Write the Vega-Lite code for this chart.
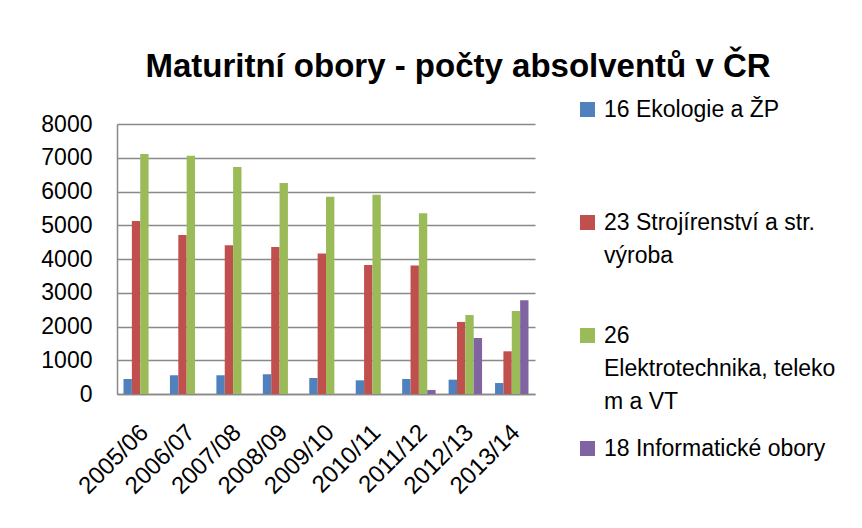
{
  "$schema": "https://vega.github.io/schema/vega-lite/v6.json",
  "width": 418,
  "height": 270,
  "autosize": {"type": "none"},
  "padding": {"left": 117, "top": 124, "right": 327, "bottom": 134},
  "background": "white",
  "title": {
    "text": "Maturitní obory - počty absolventů v ČR",
    "font": "Liberation Sans",
    "fontSize": 33,
    "fontWeight": "bold",
    "color": "#000000",
    "anchor": "middle",
    "dx": 132,
    "offset": 14
  },
  "data": {
    "values": [
      {"year": "2005/06", "series": "16 Ekologie a ŽP", "value": 445},
      {"year": "2005/06", "series": "23 Strojírenství a str. výroba", "value": 5125},
      {"year": "2005/06", "series": "26 Elektrotechnika, telekom a VT", "value": 7110},
      {"year": "2006/07", "series": "16 Ekologie a ŽP", "value": 555},
      {"year": "2006/07", "series": "23 Strojírenství a str. výroba", "value": 4710},
      {"year": "2006/07", "series": "26 Elektrotechnika, telekom a VT", "value": 7060},
      {"year": "2007/08", "series": "16 Ekologie a ŽP", "value": 555},
      {"year": "2007/08", "series": "23 Strojírenství a str. výroba", "value": 4405},
      {"year": "2007/08", "series": "26 Elektrotechnika, telekom a VT", "value": 6725},
      {"year": "2008/09", "series": "16 Ekologie a ŽP", "value": 585},
      {"year": "2008/09", "series": "23 Strojírenství a str. výroba", "value": 4355},
      {"year": "2008/09", "series": "26 Elektrotechnika, telekom a VT", "value": 6250},
      {"year": "2009/10", "series": "16 Ekologie a ŽP", "value": 475},
      {"year": "2009/10", "series": "23 Strojírenství a str. výroba", "value": 4160},
      {"year": "2009/10", "series": "26 Elektrotechnika, telekom a VT", "value": 5845},
      {"year": "2010/11", "series": "16 Ekologie a ŽP", "value": 405},
      {"year": "2010/11", "series": "23 Strojírenství a str. výroba", "value": 3820},
      {"year": "2010/11", "series": "26 Elektrotechnika, telekom a VT", "value": 5905},
      {"year": "2011/12", "series": "16 Ekologie a ŽP", "value": 445},
      {"year": "2011/12", "series": "23 Strojírenství a str. výroba", "value": 3805},
      {"year": "2011/12", "series": "26 Elektrotechnika, telekom a VT", "value": 5355},
      {"year": "2011/12", "series": "18 Informatické obory", "value": 120},
      {"year": "2012/13", "series": "16 Ekologie a ŽP", "value": 425},
      {"year": "2012/13", "series": "23 Strojírenství a str. výroba", "value": 2135},
      {"year": "2012/13", "series": "26 Elektrotechnika, telekom a VT", "value": 2340},
      {"year": "2012/13", "series": "18 Informatické obory", "value": 1660},
      {"year": "2013/14", "series": "16 Ekologie a ŽP", "value": 325},
      {"year": "2013/14", "series": "23 Strojírenství a str. výroba", "value": 1265},
      {"year": "2013/14", "series": "26 Elektrotechnika, telekom a VT", "value": 2460},
      {"year": "2013/14", "series": "18 Informatické obory", "value": 2775}
    ]
  },
  "mark": {"type": "bar"},
  "encoding": {
    "x": {
      "field": "year",
      "type": "nominal",
      "sort": null,
      "scale": {"paddingInner": 0.28, "paddingOuter": 0.14},
      "axis": {
        "title": null,
        "labelAngle": -45,
        "labelFont": "Liberation Sans",
        "labelFontSize": 24,
        "labelColor": "#000000",
        "labelPadding": 26,
        "labelOffset": -4,
        "ticks": false,
        "domain": true,
        "domainColor": "#898989",
        "domainWidth": 1.5,
        "grid": false
      }
    },
    "xOffset": {
      "field": "series",
      "type": "nominal",
      "scale": {
        "domain": ["16 Ekologie a ŽP", "23 Strojírenství a str. výroba", "26 Elektrotechnika, telekom a VT", "18 Informatické obory"],
        "paddingInner": 0,
        "paddingOuter": 0
      }
    },
    "y": {
      "field": "value",
      "type": "quantitative",
      "scale": {"domain": [0, 8000]},
      "axis": {
        "title": null,
        "values": [0, 1000, 2000, 3000, 4000, 5000, 6000, 7000, 8000],
        "format": "d",
        "labelFont": "Liberation Sans",
        "labelFontSize": 23,
        "labelColor": "#000000",
        "labelPadding": 25,
        "ticks": false,
        "domain": true,
        "domainColor": "#898989",
        "domainWidth": 1.5,
        "grid": true,
        "gridColor": "#898989",
        "gridWidth": 1.5
      }
    },
    "color": {
      "field": "series",
      "type": "nominal",
      "scale": {
        "domain": ["16 Ekologie a ŽP", "23 Strojírenství a str. výroba", "26 Elektrotechnika, telekom a VT", "18 Informatické obory"],
        "range": ["#4F81BD", "#C0504D", "#9BBB59", "#8064A2"]
      },
      "legend": {
        "title": null,
        "orient": "none",
        "legendX": 459,
        "legendY": -26,
        "symbolType": "square",
        "symbolSize": 225,
        "symbolStrokeWidth": 0,
        "labelFont": "Liberation Sans",
        "labelFontSize": 23,
        "labelColor": "#000000",
        "labelOffset": 5,
        "labelLimit": 300,
        "rowPadding": 23,
        "labelExpr": "datum.label == '16 Ekologie a ŽP' ? ['16 Ekologie a ŽP', ' ', ' '] : datum.label == '23 Strojírenství a str. výroba' ? ['23 Strojírenství a str.', 'výroba', ' '] : datum.label == '26 Elektrotechnika, telekom a VT' ? ['26', 'Elektrotechnika, teleko', 'm a VT'] : datum.label",
        "encode": {
          "labels": {"update": {"lineHeight": {"value": 33}}}
        }
      }
    }
  },
  "config": {"view": {"stroke": null}}
}
